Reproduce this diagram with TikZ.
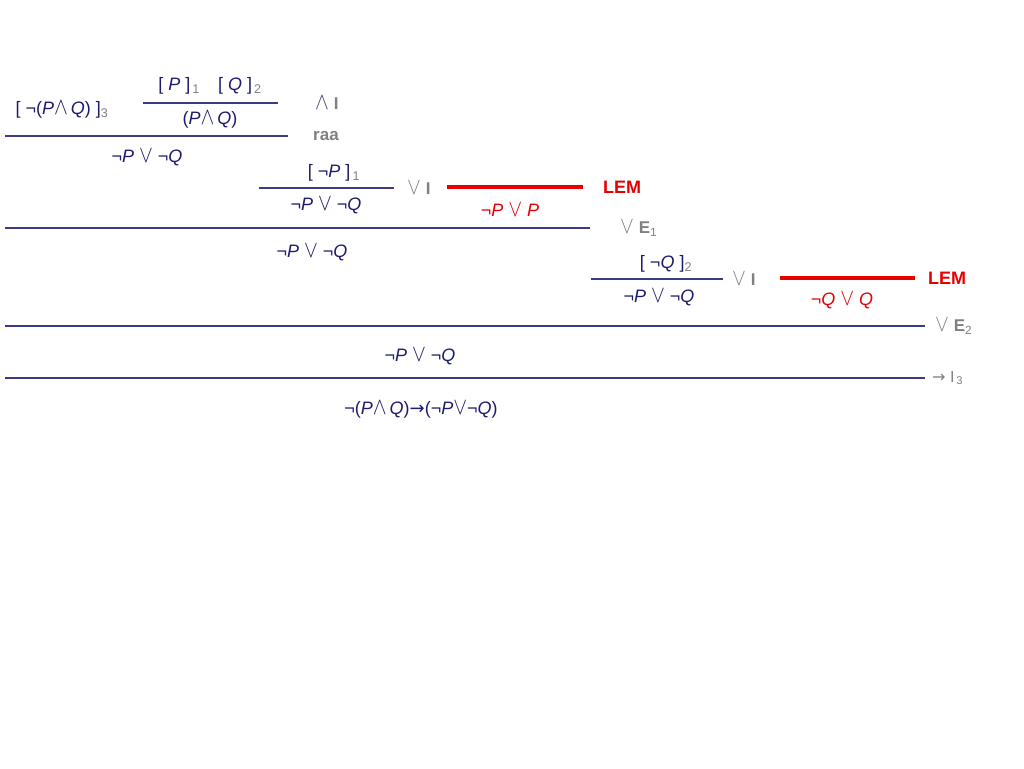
\documentclass[tikz,border=0pt]{standalone}
\usepackage{fontspec}
\setmainfont{Liberation Sans}
\newfontfamily\symfont{DejaVu Sans}
\usetikzlibrary{positioning}
\definecolor{navy}{HTML}{1C1C6B}
\definecolor{barblue}{HTML}{3A3A85}
\definecolor{rulegrey}{HTML}{808080}
\definecolor{lemred}{HTML}{E60000}
\newcommand{\orS}{\scalebox{1.2}[1.4]{$\vee$}}
\newcommand{\andS}{\scalebox{1.2}[1.4]{$\wedge$}}
\newcommand{\toS}{{\symfont →}}
\newcommand{\ix}[1]{\textsubscript{\color{rulegrey}\mdseries #1}}

\begin{document}
\begin{tikzpicture}[
  x=1pt, y=-1pt,
  formula/.style={text=navy, font=\fontsize{18}{21}\selectfont, inner sep=1pt},
  lemtext/.style={formula, text=lemred},
  rulename/.style={text=rulegrey, font=\fontsize{17}{20}\selectfont\bfseries, inner sep=1pt, anchor=west},
  lemname/.style={rulename, text=lemred, font=\fontsize{18}{21}\selectfont\bfseries},
  bar/.style={barblue, line width=1.6pt},
  lembar/.style={lemred, line width=3.2pt}
]
\useasboundingbox (0,0) rectangle (1024,768);
% top: and-introduction and raa
\node[formula] (hyp3) at (62,110) {[ ¬(\textit{P}\andS\,\textit{Q}) ]\ix{3}};
\node[formula] (hypPQ) at (210,86) {[ \textit{P} ]\ix{\,1}\quad[ \textit{Q} ]\ix{\,2}};
\coordinate (b1l) at (143,103); \coordinate (b1r) at (278,103);
\draw[bar] (b1l) -- (b1r);
\node[formula] (conj) at (210,120) {(\textit{P}\andS\,\textit{Q})};
\node[rulename, right=36pt of b1r] (andI) {{\color{navy!60!gray}\andS}\ I};
\coordinate (b2l) at (5,136); \coordinate (b2r) at (288,136);
\draw[bar] (b2l) -- (b2r);
\node[rulename, right=24pt of b2r] (raa) {raa};
\node[formula] (c1) at (147,157) {¬\textit{P} \orS{} ¬\textit{Q}};
% first case
\node[formula] (hypnP) at (334,173) {[ ¬\textit{P} ]\ix{\,1}};
\coordinate (b3l) at (259,188); \coordinate (b3r) at (394,188);
\draw[bar] (b3l) -- (b3r);
\node[rulename, right=12pt of b3r] (orI1) {\orS\ I};
\node[formula] (c2) at (326,205) {¬\textit{P} \orS{} ¬\textit{Q}};
\coordinate (r1l) at (447,187); \coordinate (r1r) at (583,187);
\draw[lembar] (r1l) -- (r1r);
\node[lemname, right=19pt of r1r] (lem1) {LEM};
\node[lemtext] (exP) at (510,210) {¬\textit{P} \orS{} \textit{P}};
\coordinate (b4l) at (5,228); \coordinate (b4r) at (590,228);
\draw[bar] (b4l) -- (b4r);
\node[rulename, right=29pt of b4r] (orE1) {\orS\ E\ix{1}};
\node[formula] (c3) at (312,252) {¬\textit{P} \orS{} ¬\textit{Q}};
% second case
\node[formula] (hypnQ) at (666,264) {[ ¬\textit{Q} ]\ix{2}};
\coordinate (b5l) at (591,279); \coordinate (b5r) at (723,279);
\draw[bar] (b5l) -- (b5r);
\node[rulename, right=8pt of b5r] (orI2) {\orS\ I};
\node[formula] (c4) at (659,297) {¬\textit{P} \orS{} ¬\textit{Q}};
\coordinate (r2l) at (780,278); \coordinate (r2r) at (915,278);
\draw[lembar] (r2l) -- (r2r);
\node[lemname, right=12pt of r2r] (lem2) {LEM};
\node[lemtext] (exQ) at (842,300) {¬\textit{Q} \orS{} \textit{Q}};
\coordinate (b6l) at (5,326); \coordinate (b6r) at (925,326);
\draw[bar] (b6l) -- (b6r);
\node[rulename, right=9pt of b6r] (orE2) {\orS\ E\ix{2}};
\node[formula] (c5) at (420,356) {¬\textit{P} \orS{} ¬\textit{Q}};
% implication introduction
\coordinate (b7l) at (5,378); \coordinate (b7r) at (925,378);
\draw[bar] (b7l) -- (b7r);
\node[rulename, font=\fontsize{16}{19}\selectfont, right=6pt of b7r] (impI) {\toS\ I\ix{\,3}};
\node[formula] (goal) at (421,410) {¬(\textit{P}\andS\,\textit{Q})\toS(¬\textit{P}\orS¬\textit{Q})};
\end{tikzpicture}
\end{document}
